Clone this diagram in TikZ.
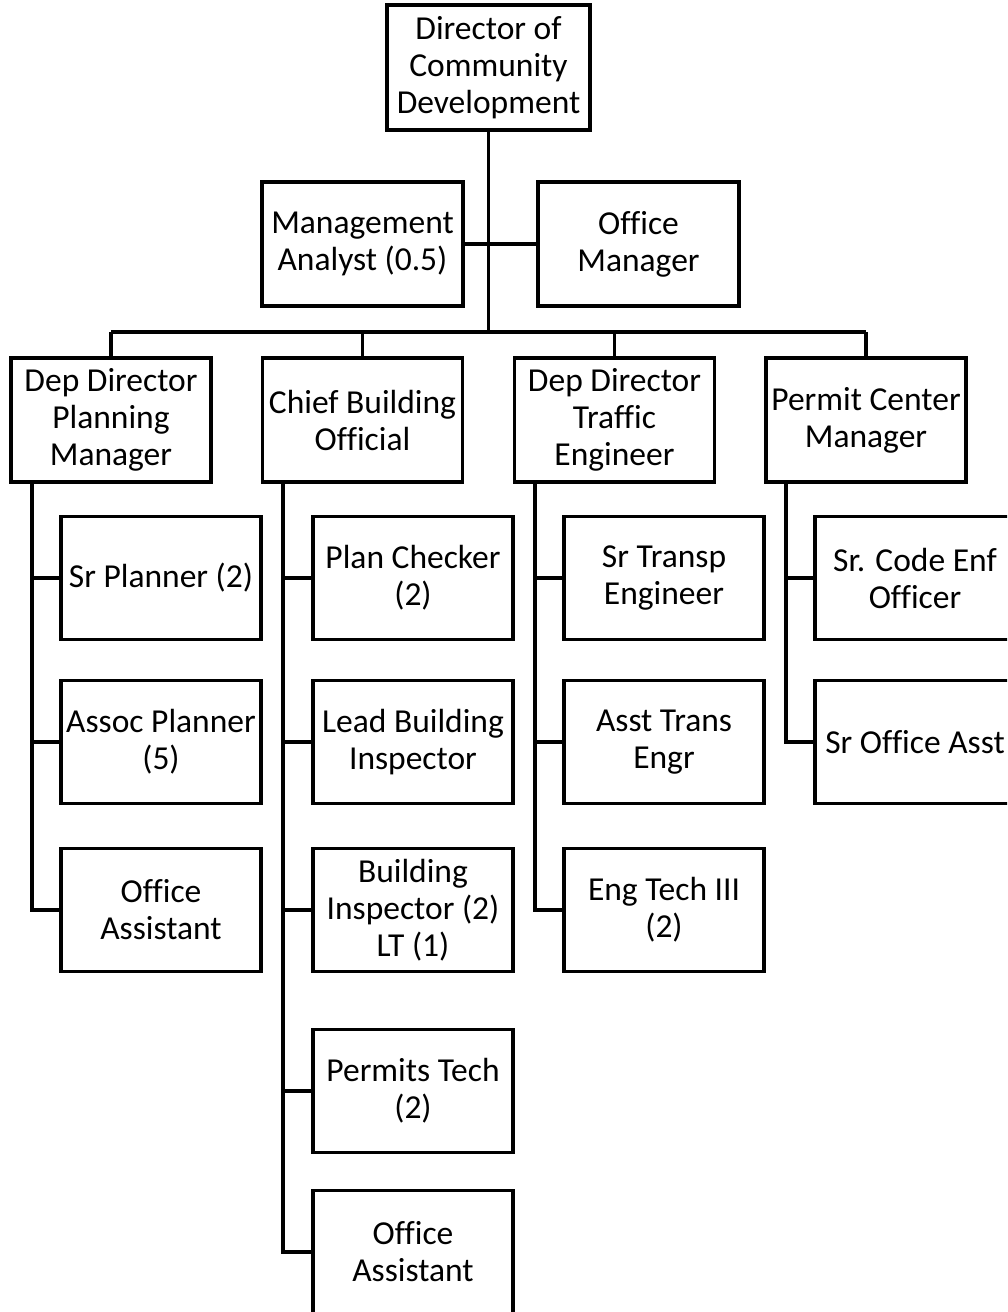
\documentclass[tikz,border=0pt]{standalone}
\usepackage{fontspec}
\setmainfont{Carlito}[Ligatures={NoCommon}]
\begin{document}
\begin{tikzpicture}[x=1pt,y=-1pt,
  box/.style={draw=black,line width=3.5pt,fill=white,minimum width=200pt,minimum height=124pt,
    inner sep=0pt,align=center,font=\fontsize{33.5}{37}\selectfont},
  conn/.style={draw=black,line width=3.5pt}]
\clip (0,0) rectangle (1007,1312);
\fill[white] (0,0) rectangle (1007,1312);
% top
\node[box,minimum width=203pt,minimum height=125pt] (dir) at (488.5,67.5) {Director of\\Community\\Development};
\node[box,minimum width=201pt] (ma) at (362.5,244) {Management\\Analyst (0.5)};
\node[box,minimum width=201pt] (om) at (638.5,244) {Office\\Manager};
% row 2
\node[box] (p1) at (111,420) {Dep Director\\Planning\\Manager};
\node[box] (p2) at (362.5,420) {Chief Building\\Official};
\node[box] (p3) at (614.5,420) {Dep Director\\Traffic\\Engineer};
\node[box] (p4) at (866,420) {Permit Center\\Manager};
% children col 1
\node[box,minimum height=123pt] (c11) at (161,578) {Sr Planner (2)};
\node[box,minimum height=123pt] (c12) at (161,742) {Assoc Planner\\(5)};
\node[box,minimum height=123pt] (c13) at (161,910) {Office\\Assistant};
% col 2
\node[box,minimum height=123pt] (c21) at (413,578) {Plan Checker\\(2)};
\node[box,minimum height=123pt] (c22) at (413,742) {Lead Building\\Inspector};
\node[box,minimum height=123pt] (c23) at (413,910) {Building\\Inspector (2)\\LT (1)};
\node[box,minimum height=123pt] (c24) at (413,1091) {Permits Tech\\(2)};
\node[box,minimum height=123pt] (c25) at (413,1252) {Office\\Assistant};
% col 3
\node[box,minimum height=123pt] (c31) at (664,578) {Sr Transp\\Engineer};
\node[box,minimum height=123pt] (c32) at (664,742) {Asst Trans\\Engr};
\node[box,minimum height=123pt] (c33) at (664,910) {Eng Tech III\\(2)};
% col 4
\node[box,minimum height=123pt] (c41) at (915,578) {Sr. Code Enf\\Officer};
\node[box,minimum height=123pt] (c42) at (915,742) {Sr Office Asst};
% bus coordinates
\coordinate (bus) at (488.5,332);
\coordinate (busL) at (111,332);
\coordinate (busR) at (866,332);
\coordinate (s1) at (32,482);
\coordinate (s2) at (283,482);
\coordinate (s3) at (535,482);
\coordinate (s4) at (786,482);
% connectors
\draw[conn] (dir.south) -- (bus);
\draw[conn] (ma.east) -- (om.west);
\draw[conn] (busL) -- (busR);
\draw[conn] (busL) -- (p1.north);
\draw[conn] (p2.north |- bus) -- (p2.north);
\draw[conn] (p3.north |- bus) -- (p3.north);
\draw[conn] (busR) -- (p4.north);
\draw[conn] (s1) |- (c13.west);
\draw[conn] (s1 |- c11.west) -- (c11.west);
\draw[conn] (s1 |- c12.west) -- (c12.west);
\draw[conn] (s2) |- (c25.west);
\draw[conn] (s2 |- c21.west) -- (c21.west);
\draw[conn] (s2 |- c22.west) -- (c22.west);
\draw[conn] (s2 |- c23.west) -- (c23.west);
\draw[conn] (s2 |- c24.west) -- (c24.west);
\draw[conn] (s3) |- (c33.west);
\draw[conn] (s3 |- c31.west) -- (c31.west);
\draw[conn] (s3 |- c32.west) -- (c32.west);
\draw[conn] (s4) |- (c42.west);
\draw[conn] (s4 |- c41.west) -- (c41.west);
\end{tikzpicture}
\end{document}
